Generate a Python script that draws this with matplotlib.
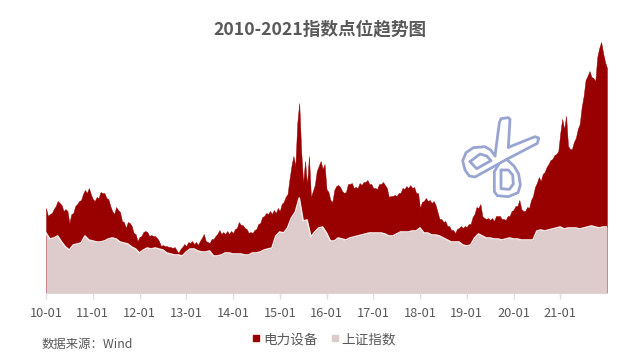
import numpy as np
import matplotlib
matplotlib.use("Agg")
import matplotlib.pyplot as plt
from matplotlib.lines import Line2D
from matplotlib.path import Path
from matplotlib.patches import PathPatch
from matplotlib.transforms import Affine2D

plt.rcParams['font.family'] = ['Noto Sans CJK SC', 'DejaVu Sans']

title = "2010-2021指数点位趋势图"
source = "数据来源：Wind"
series_names = ["电力设备", "上证指数"]
tick_labels = ["10-01","11-01","12-01","13-01","14-01","15-01","16-01","17-01","18-01","19-01","20-01","21-01"]

# half-monthly readings, arbitrary index scale
power_equipment = [
 85,77,79,80,84,87,92,90,88,82,84,82,70,79,80,87,89,92,93,99,103,100,105,99,
 94,92,96,95,101,100,100,95,94,87,82,79,86,83,81,72,71,65,71,70,67,60,59,52,
 56,57,61,62,61,57,58,57,57,55,52,47,48,47,47,46,46,45,46,43,40,44,46,49,
 47,51,50,52,49,51,48,52,55,59,52,51,50,54,54,57,59,63,59,61,59,62,59,62,
 60,64,65,71,68,68,65,64,60,61,60,63,64,69,70,76,77,80,79,82,79,83,80,85,
 82,89,91,96,99,114,127,137,127,170,190,142,110,132,108,137,96,102,108,122,127,132,124,129,
 104,101,93,91,103,107,108,106,102,100,101,109,109,110,105,106,105,110,108,111,111,113,109,109,
 105,105,104,109,109,111,108,105,96,97,97,98,97,100,100,105,104,107,105,108,105,106,100,100,
 85,91,92,95,92,93,90,92,88,81,74,74,71,72,67,67,63,63,60,64,65,67,65,67,
 66,69,69,76,79,86,85,89,77,75,74,75,73,75,72,77,77,77,74,74,73,77,77,82,
 83,87,87,93,84,82,82,86,85,93,97,106,110,116,112,119,121,126,129,133,134,138,139,142,
 160,174,164,177,147,144,144,151,155,164,169,186,197,213,217,222,216,215,212,236,245,251,240,231,
 225]
# monthly readings, same scale
sse_index = [
 60,54,55,57,51,46,43,48,49,50,57,53,
 52,51,51,52,54,55,54,51,50,49,46,44,
 40,43,45,44,45,44,43,40,39,38,38,37,
 41,44,44,42,41,41,42,37,37,38,40,40,
 39,39,39,38,38,40,40,41,43,44,45,57,
 61,60,65,75,81,95,72,73,56,61,65,66,
 60,52,52,55,54,53,55,56,57,58,59,60,
 60,60,60,59,57,57,59,61,61,61,62,62,
 65,60,60,58,58,57,55,53,51,51,51,48,
 47,48,55,59,57,55,55,54,54,53,54,55,
 54,54,53,53,53,53,62,63,62,63,64,65,
 66,64,65,65,65,64,65,66,67,66,65,66,
 66]

power_x = 2010 + np.arange(len(power_equipment)) / 24
sse_x = 2010 + np.arange(len(sse_index)) / 12
tick_x = 2010 + np.arange(len(tick_labels))

RED = "#990000"
PINK = "#DECBCB"
GREY = "#595959"

fig = plt.figure(figsize=(6.4, 3.63), dpi=100, facecolor="white")
ax = fig.add_axes([46/640, 1-293/363, 561/640, 253/363])
ax.fill_between(power_x, 0, power_equipment, color=RED, lw=0.3, zorder=2)
ax.fill_between(sse_x, 0, sse_index, color=PINK, lw=0, zorder=3)
ax.plot(sse_x, sse_index, color="#F0E8E8", lw=1.2, zorder=4)
ax.set_xlim(2010, 2022)
ax.set_ylim(0, 253)
ax.set_yticks([])
ax.set_xticks(tick_x)
ax.set_xticklabels(tick_labels, fontsize=9.2, color=GREY)
ax.tick_params(axis="x", length=4, width=1, color="#DDDDDD", pad=6)
for s in ("top", "left", "right"):
    ax.spines[s].set_visible(False)
ax.spines["bottom"].set_color("#DDDDDD")
ax.patch.set_alpha(0)

fig.text(320/640, 1-29/363, title, ha="center", va="center", fontsize=12.7,
         fontweight="bold", color=GREY)
fig.text(42/640, 1-344/363, source, ha="left", va="center", fontsize=8.9, color=GREY)

handles = [Line2D([], [], ls="", marker="s", ms=5.0, color=c) for c in (RED, PINK)]
ax.legend(handles, series_names, loc="center", bbox_to_anchor=(324.3/640, 1-339/363),
          bbox_transform=fig.transFigure, ncols=2, frameon=False, fontsize=9.8,
          labelcolor=GREY, handlelength=0.55, handletextpad=0.25, columnspacing=0.95,
          borderpad=0, borderaxespad=0)

# scissors watermark (decorative icon)
blade_a = [(165,378),(178,278),(183,266),(205,263),(210,268),(205,352)]
blade_b = [(205,352),(285,320),(296,324),(292,340),(200,388),(105,441),(88,438),(75,420),(68,392),
           (78,368),(100,353),(135,350),(152,360),(165,378)]
handle_b = [(200,388),(222,408),(236,432),(241,465),(234,488),(205,500),(172,497),(163,485),(163,425),(176,403)]
inner_a = [(90,395),(120,372),(140,378),(153,392),(110,416),(90,395)]
inner_b = [(183,420),(205,420),(218,435),(220,462),(208,478),(183,476),(183,420)]
to_px = Affine2D().scale(1/3, -1/3).translate(440, 363-30)
for pts in (blade_a, blade_b, handle_b, inner_a, inner_b):
    fig.add_artist(PathPatch(Path(pts), fill=False, ec="#98A5D2", lw=2.0,
                             joinstyle="round", capstyle="round", transform=to_px))

fig.savefig("out.png", dpi=100, facecolor="white")
